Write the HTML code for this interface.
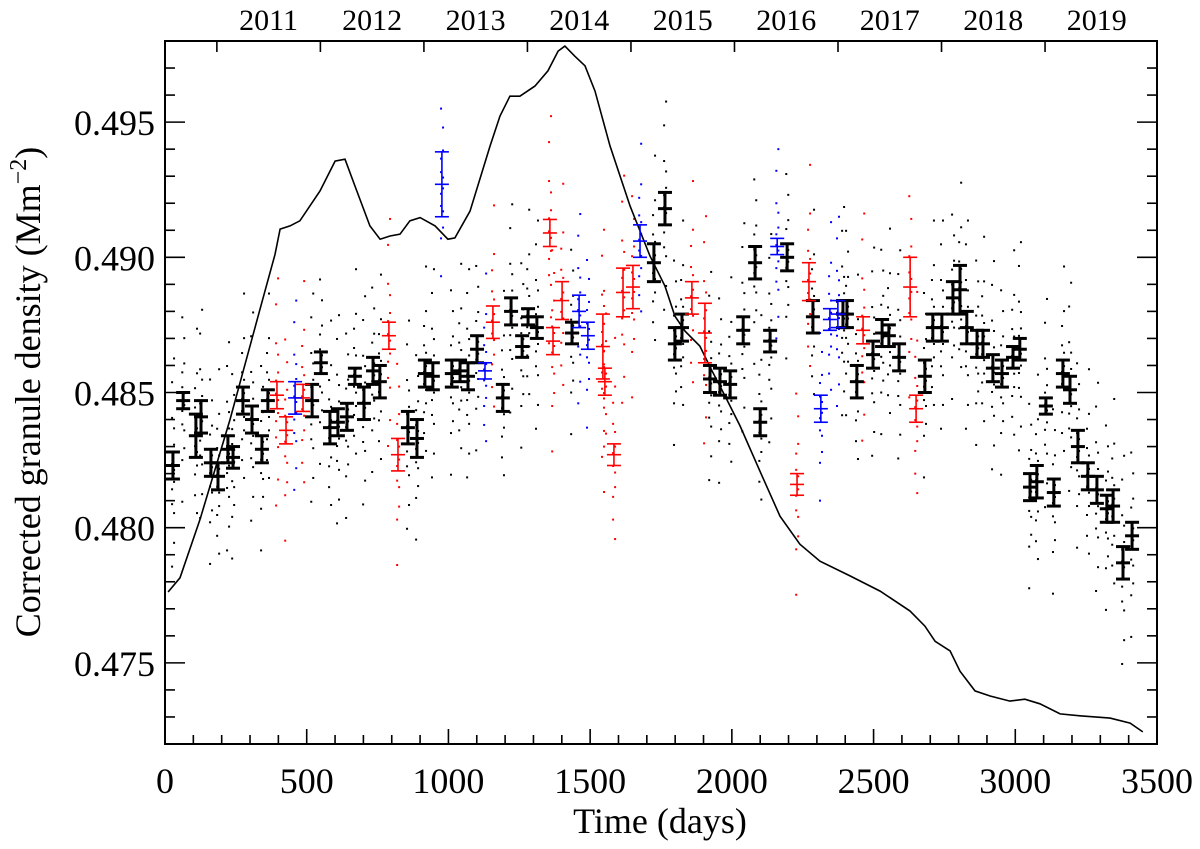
<!DOCTYPE html>
<html><head><meta charset="utf-8"><style>
html,body{margin:0;padding:0;background:#fff}
svg{display:block}
svg text{font-family:"Liberation Serif","DejaVu Serif",serif;fill:#000}
</style></head><body>
<svg id="chart" width="1200" height="849" viewBox="0 0 1200 849" xmlns="http://www.w3.org/2000/svg" font-family="Liberation Serif, DejaVu Serif, serif">
<g id="dots"></g>
<g id="line"></g>
<g id="bars"></g>
<g id="axes"></g>
</svg>
<script>
// ---- data ----
const blackDays=[28,64,109,127,162,187,222,240,275,307,342,363,519,550,582,610,642,670,702,734,758,857,889,917,945,1012,1041,1069,1101,1192,1221,1260,1281,1312,1436,1725,1764,1799,1824,1923,1958,1994,2040,2082,2100,2135,2195,2286,2392,2406,2441,2498,2530,2554,2590,2681,2709,2741,2780,2805,2829,2865,2886,2921,2953,2992,3016,3052,3076,3108,3136,3168,3193,3221,3256,3288,3323,3345,3380,3412];
const blackVals=[0.4823,0.4847,0.4834,0.4841,0.4824,0.4819,0.4829,0.4826,0.4847,0.4840,0.4829,0.4847,0.4847,0.4861,0.4837,0.4839,0.4841,0.4856,0.4846,0.4858,0.4854,0.4837,0.4833,0.4857,0.4856,0.4857,0.4858,0.4856,0.4866,0.4848,0.4880,0.4867,0.4878,0.4874,0.4872,0.4898,0.4918,0.4868,0.4874,0.4855,0.4854,0.4853,0.4873,0.4898,0.4839,0.4869,0.4900,0.4878,0.4879,0.4879,0.4854,0.4864,0.4872,0.4871,0.4863,0.4856,0.4874,0.4874,0.4885,0.4888,0.4874,0.4868,0.4868,0.4859,0.4857,0.4863,0.4866,0.4815,0.4817,0.4845,0.4813,0.4857,0.4851,0.4830,0.4819,0.4814,0.4807,0.4808,0.4787,0.4797];
const blackErrs=[0.0005,0.0003,0.0008,0.0006,0.0005,0.0005,0.0005,0.0004,0.0005,0.0005,0.0005,0.0004,0.0006,0.0004,0.0006,0.0005,0.0005,0.0003,0.0006,0.0005,0.0006,0.0006,0.0007,0.0005,0.0005,0.0005,0.0004,0.0005,0.0005,0.0005,0.0005,0.0004,0.0003,0.0004,0.0004,0.0007,0.0006,0.0006,0.0005,0.0005,0.0005,0.0005,0.0005,0.0006,0.0005,0.0004,0.0005,0.0006,0.0005,0.0005,0.0006,0.0005,0.0005,0.0004,0.0005,0.0006,0.0005,0.0005,0.0006,0.0009,0.0006,0.0005,0.0005,0.0005,0.0005,0.0004,0.0004,0.0005,0.0006,0.0003,0.0005,0.0005,0.0005,0.0006,0.0005,0.0005,0.0005,0.0006,0.0006,0.0005];
const redDays=[395,427,487,790,822,1157,1358,1369,1401,1545,1552,1584,1616,1651,1859,1905,2230,2272,2463,2629,2650];
const redVals=[0.4849,0.4836,0.4848,0.4871,0.4827,0.4876,0.4909,0.4869,0.4884,0.4867,0.4854,0.4827,0.4887,0.4889,0.4885,0.4872,0.4816,0.4891,0.4873,0.4889,0.4844];
const redErrs=[0.0005,0.0005,0.0005,0.0005,0.0006,0.0006,0.0005,0.0005,0.0007,0.0012,0.0005,0.0004,0.0009,0.0008,0.0006,0.0011,0.0004,0.0007,0.0005,0.0011,0.0005];
const blueDays=[459,977,1129,1461,1492,1676,2160,2314,2346,2374];
const blueVals=[0.4848,0.4927,0.4858,0.4880,0.4871,0.4906,0.4904,0.4844,0.4877,0.4879];
const blueErrs=[0.0006,0.0012,0.0003,0.0006,0.0005,0.0006,0.0003,0.0005,0.0004,0.0005];
const actDays=[11,53,123,229,335,388,406,441,476,547,600,635,670,723,759,794,829,864,900,953,998,1023,1076,1147,1182,1217,1252,1305,1351,1387,1411,1446,1482,1517,1570,1641,1711,1764,1799,1835,1887,1930,1976,2029,2099,2170,2240,2311,2417,2523,2628,2681,2717,2770,2805,2858,2911,2981,3034,3087,3158,3228,3334,3405,3450];
const actVals=[32.6,35.7,48.3,70,94,106,111.5,112.2,113.3,119.8,126.3,126.7,120.9,112.2,109.3,110,110.4,113.3,114,112.2,109.3,109.6,115.4,129.6,136.1,140.4,140.4,142.6,145.9,150.2,151.3,149.1,147,141.5,129.6,116.5,105.7,99.1,92.6,89.3,86.1,80.7,75.2,68.7,58.9,49.1,43,39.3,36.1,32.8,28.5,25.2,21.9,19.8,15.4,11.1,10,8.9,9.3,8.3,6.1,5.7,5.2,4.1,2.2];
// spread pattern of individual measurements around each bin (in units of 0.001)
const dotOffsets=[-3.4,-2.6,-2.0,-1.6,-1.3,-1.0,-0.8,-0.55,-0.35,-0.15,0.05,0.25,0.45,0.7,0.95,1.25,1.6,2.1,2.8,3.6];
const xTicks=[0,500,1000,1500,2000,2500,3000,3500];
const yTicks=[0.475,0.480,0.485,0.490,0.495];
const years=[2011,2012,2013,2014,2015,2016,2017,2018,2019];
const year2011Day=183;

// ---- scales ----
const L=165,R=1157,T=41,B=744;
const X=d=>L+(d-0)/(3500-0)*(R-L);
const Y=v=>B-(v-0.472)/(0.498-0.472)*(B-T);
const YA=a=>742-a*(742-41)/152.4;
const NS="http://www.w3.org/2000/svg";
const FONT='"Liberation Serif","DejaVu Serif",serif';
function mk(tag,attrs,parent){const e=document.createElementNS(NS,tag);for(const k in attrs)e.setAttribute(k,attrs[k]);if(tag==='text')e.style.fontFamily=FONT;parent.appendChild(e);return e;}

// dots
const gD=document.getElementById('dots');
function drawDots(days,vals,color,scale){
  days.forEach((d,i)=>{
    dotOffsets.forEach((o,k)=>{
      if((k+i)%3===2)return;
      const col=(k%2===0)?-3:4;
      const v=vals[i]+o*scale;
      if(v<0.472||v>0.498)return;
      const r=mk('rect',{x:X(d+col)-1,y:Y(v)-1,width:2,height:2,fill:color},gD);
      
      
    });
  });
}
drawDots(blackDays,blackVals,'#000',0.0011);
drawDots(redDays,redVals,'#f00',0.0012);
drawDots(blueDays,blueVals,'#00f',0.0010);

// activity line
const gL=document.getElementById('line');
const pl=mk('polyline',{points:actDays.map((d,i)=>X(d).toFixed(1)+','+YA(actVals[i]).toFixed(1)).join(' '),fill:'none',stroke:'#000','stroke-width':1.6},gL);



// error bars
const gB=document.getElementById('bars');
function drawBars(days,vals,errs,color,w,hw,name){
  days.forEach((d,i)=>{
    const g=mk('g',{stroke:color,'stroke-width':w,fill:'none'},gB);
    
    
    const x=X(d),y0=Y(vals[i]-errs[i]),y1=Y(vals[i]+errs[i]),y=Y(vals[i]);
    mk('line',{x1:x,x2:x,y1:y0,y2:y1},g);
    mk('line',{x1:x-hw,x2:x+hw,y1:y0,y2:y0},g);
    mk('line',{x1:x-hw,x2:x+hw,y1:y1,y2:y1},g);
    mk('line',{x1:x-hw,x2:x+hw,y1:y,y2:y},g);
  });
}
drawBars(blackDays,blackVals,blackErrs,'#000',3,7,'black-error-bar');
drawBars(redDays,redVals,redErrs,'#f00',1.6,7,'red-error-bar');
drawBars(blueDays,blueVals,blueErrs,'#00f',1.6,7,'blue-error-bar');

// axes
const gA=document.getElementById('axes');
const fr=mk('rect',{x:L,y:T,width:R-L,height:B-T,fill:'none',stroke:'#000','stroke-width':2},gA);


for(let d=100;d<3500;d+=100){
  const maj=d%500===0, len=maj?15:9;
  mk('line',{x1:X(d),x2:X(d),y1:B,y2:B-len,stroke:'#000','stroke-width':1.6},gA);
}
xTicks.forEach(t=>{
  const tx=mk('text',{x:X(t),y:793,'font-size':36,'text-anchor':'middle'},gA);
  tx.textContent=t;
  
  
});
for(let k=0;k<=26;k++){
  const v=0.472+k*0.001, maj=(k%5===3), len=maj?20:10;
  if(k===0||k===26)continue;
  mk('line',{x1:L,x2:L+len,y1:Y(v),y2:Y(v),stroke:'#000','stroke-width':1.6},gA);
  mk('line',{x1:R,x2:R-len,y1:Y(v),y2:Y(v),stroke:'#000','stroke-width':1.6},gA);
}
yTicks.forEach(t=>{
  const tx=mk('text',{x:155,y:Y(t)+13,'font-size':36,'text-anchor':'end'},gA);
  tx.textContent=t.toFixed(3);
  
  
});
years.forEach((yr,i)=>{
  const d0=year2011Day+i*365.25;
  mk('line',{x1:X(d0),x2:X(d0),y1:T,y2:T+11,stroke:'#000','stroke-width':1.6},gA);
  const tx=mk('text',{x:X(d0+182.6),y:30,'font-size':30,'text-anchor':'middle'},gA);
  tx.textContent=yr;
  
  
});
const xt=mk('text',{x:660,y:833,'font-size':36,'text-anchor':'middle'},gA);
xt.textContent='Time (days)';


const yt=mk('text',{x:0,y:0,'font-size':36,'text-anchor':'middle',transform:'translate(40,392) rotate(-90)'},gA);


yt.appendChild(document.createTextNode('Corrected granule density (Mm'));
const sup=mk('tspan',{dy:-14,'font-size':24},yt);
sup.textContent='\u22122';
const cl=mk('tspan',{dy:14},yt);
cl.textContent=')';
</script>
</body></html>
